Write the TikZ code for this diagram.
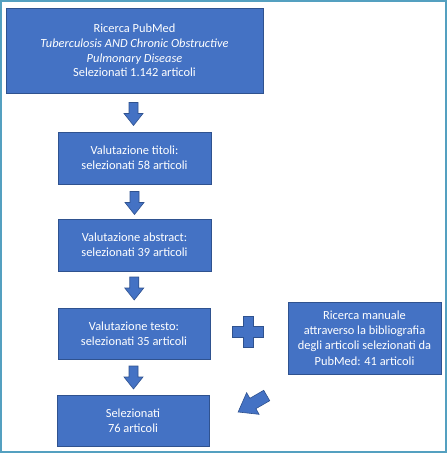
\documentclass[tikz,border=0pt]{standalone}
\usepackage{fontspec}
\setmainfont{Carlito}
\usetikzlibrary{calc}
\definecolor{boxfill}{HTML}{4472C4}
\definecolor{boxline}{HTML}{2F528F}
\definecolor{frame}{RGB}{84,160,192}
\tikzset{
  stepbox/.style={draw=boxline, line width=0.8pt, fill=boxfill, text=white,
    align=center, inner sep=0pt, font=\fontsize{12.4}{15.2}\selectfont},
  downarrow/.pic={
    \fill[boxfill, draw=boxline, line width=0.6pt]
      (-4.5pt,11.5pt) -- (-4.5pt,0.5pt) -- (-9.5pt,0.5pt) -- (0pt,-11.5pt)
      -- (9.5pt,0.5pt) -- (4.5pt,0.5pt) -- (4.5pt,11.5pt) -- cycle;
  },
  bigarrow/.pic={
    \fill[boxfill, draw=boxline, line width=0.6pt]
      (-6pt,17pt) -- (-6pt,1pt) -- (-12.5pt,1pt) -- (0pt,-16pt)
      -- (12.5pt,1pt) -- (6pt,1pt) -- (6pt,17pt) -- cycle;
  },
  plussign/.pic={
    \fill[boxfill, draw=boxline, line width=0.8pt]
      (-5pt,15.5pt) -- (5pt,15.5pt) -- (5pt,5.5pt) -- (15.5pt,5.5pt)
      -- (15.5pt,-5.5pt) -- (5pt,-5.5pt) -- (5pt,-15.5pt) -- (-5pt,-15.5pt)
      -- (-5pt,-5.5pt) -- (-15.5pt,-5.5pt) -- (-15.5pt,5.5pt) -- (-5pt,5.5pt) -- cycle;
  }
}
\begin{document}
\begin{tikzpicture}[x=1pt,y=1pt]
\useasboundingbox (0,0) rectangle (447,-453);
\draw[frame, line width=2pt] (1,-1) rectangle (446,-452);

\node[stepbox, minimum width=257pt, minimum height=85pt] (b1) at (134.5,-50.5)
  {Ricerca PubMed\\[-0.6pt] \textit{Tuberculosis AND Chronic Obstructive}\\[-0.6pt] \textit{Pulmonary Disease}\\[-0.6pt] Selezionati 1.142 articoli};
\node[stepbox, minimum width=153pt, minimum height=52pt] (b2) at (134.5,-158)
  {Valutazione titoli:\\ selezionati 58 articoli};
\node[stepbox, minimum width=153pt, minimum height=52pt] (b3) at (134.5,-245)
  {Valutazione abstract:\\ selezionati 39 articoli};
\node[stepbox, minimum width=152pt, minimum height=51pt] (b4) at (134,-333.5)
  {Valutazione testo:\\ selezionati 35 articoli};
\node[stepbox, minimum width=152pt, minimum height=51pt] (b5) at (133,-420.5)
  {Selezionati\\ 76 articoli};
\node[stepbox, minimum width=153pt, minimum height=72pt] (b6) at (364.5,-338)
  {Ricerca manuale\\ attraverso la bibliografia\\ degli articoli selezionati da\\ PubMed: 41 articoli};

\pic at ($(b1.south)!0.5!(b2.north)+(-1,-1.5)$) {downarrow};
\pic at ($(b2.south)!0.5!(b3.north)+(0,-1.5)$) {downarrow};
\pic at ($(b3.south)!0.5!(b4.north)+(0,1)$) {downarrow};
\pic at ($(b4.south)!0.5!(b5.north)+(0,-0.5)$) {downarrow};
\pic at ($(b4.east)!0.5!(b6.west)+(-1,3.5)$) {plussign};
\coordinate (diag) at (252,-404);
\pic[rotate=-60] at (diag) {bigarrow};
\end{tikzpicture}
\end{document}
